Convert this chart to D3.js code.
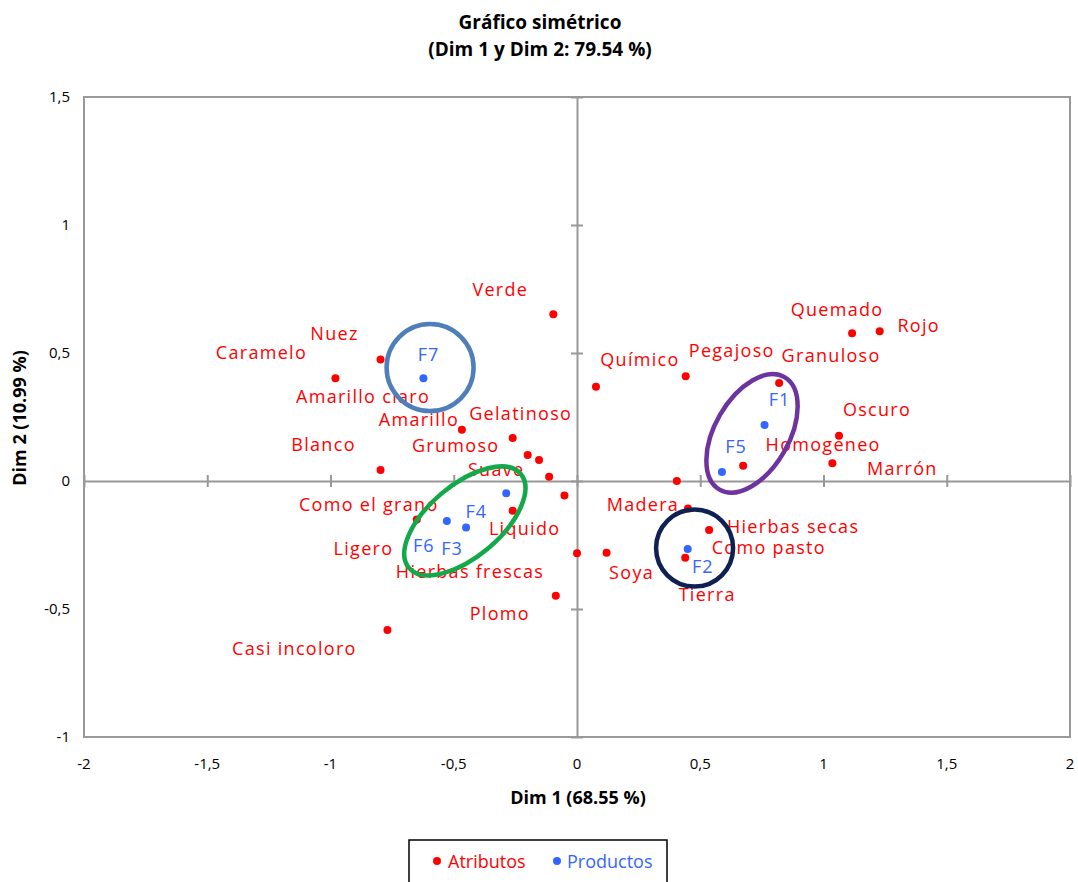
<!doctype html>
<html>
<head>
<meta charset="utf-8">
<style>
  body { margin: 0; background: #fff; }
  text { font-family: "Open Sans", "Noto Sans", sans-serif; }
</style>
<script src="https://d3js.org/d3.v7.min.js"></script>
</head>
<body>
<svg width="1078" height="882" class="svg1"></svg>
<script>
// atributos (Dim 1, Dim 2)
var attrNames = ["Verde", "Nuez", "Caramelo", "Amarillo claro", "Amarillo", "Gelatinoso", "Grumoso",
                 "Blanco", "Suave", "Como el grano", "Ligero", "Hierbas frescas", "Liquido", "Plomo",
                 "Casi incoloro", "Químico", "Pegajoso", "Granuloso", "Quemado", "Rojo", "Oscuro",
                 "Homogeneo", "Marrón", "Como pasto", "Madera", "Hierbas secas", "Soya", "Tierra"];
var attrDim1 = [-0.096, -0.797, -0.980, -0.154, -0.467, -0.200, -0.261,
                -0.797, -0.113, -0.650, -0.051, 0.000, -0.261, -0.086,
                -0.769, 0.077, 0.441, 0.820, 1.116, 1.228, 1.063,
                0.674, 1.036, 0.405, 0.450, 0.536, 0.120, 0.439];
var attrDim2 = [0.651, 0.475, 0.401, 0.082, 0.200, 0.102, 0.168,
                0.043, 0.017, -0.150, -0.057, -0.282, -0.116, -0.448,
                -0.582, 0.368, 0.409, 0.383, 0.577, 0.585, 0.177,
                0.060, 0.069, 0.000, -0.107, -0.191, -0.280, -0.300];

// productos
var prodNames = ["F1", "F2", "F3", "F4", "F5", "F6", "F7"];
var prodDim1 = [0.761, 0.449, -0.450, -0.287, 0.588, -0.528, -0.623];
var prodDim2 = [0.219, -0.266, -0.182, -0.048, 0.035, -0.156, 0.401];

var xTicks = [-2, -1.5, -1, -0.5, 0, 0.5, 1, 1.5, 2];
var yTicks = [-1, -0.5, 0, 0.5, 1, 1.5];

// label offsets in px (layout only)
var attrLabelOff = [[-53,-25],[-46,-26],[-74,-26],[-176,-63],[-43,-10],[-7,-41],[-57,8],
                    [-57,-25],[-53,-7],[-48,-15],[-201,53],[-107,19],[12,18],[-56,18],
                    [-93,19],[44,-27],[46,-26],[52,-27],[-15,-24],[39,-6],[38,-26],
                    [80,-21],[70,5],[92,67],[-45,-4],[84,-3],[25,20],[22,37]];
var prodLabelOff = [[15,-25],[15,18],[-14,21],[-30,18],[14,-25],[-23,25],[5,-24]];

// group ellipses: centre in data units, radii px, rotation deg
var groups = [
  {cx: -0.596, cy: 0.443, rx: 43.5, ry: 43.5, rot: 0, color: "#4f7fba"},
  {cx: -0.455, cy: -0.156, rx: 73, ry: 36, rot: -40, color: "#13a84a"},
  {cx: 0.710, cy: 0.186, rx: 65, ry: 37, rot: -60, color: "#6d34a0"},
  {cx: 0.477, cy: -0.262, rx: 38.5, ry: 38.5, rot: 0, color: "#0f2150"}
];

var svg = d3.select(".svg1");
var pl = 84, pr = 1070, pt = 97, pb = 737;

var x = d3.scaleLinear().domain([-2, 2]).range([pl, pr]);
var y = d3.scaleLinear().domain([-1, 1.5]).range([pb, pt]);
var fmt = function(d) { return String(d).replace(".", ","); };

var gray = "#999";

// title
svg.append("text").attr("x", 540).attr("y", 29).attr("text-anchor", "middle")
   .attr("font-size", "19px").attr("font-weight", "bold").text("Gráfico simétrico");
svg.append("text").attr("x", 540).attr("y", 56).attr("text-anchor", "middle")
   .attr("font-size", "19px").attr("font-weight", "bold").text("(Dim 1 y Dim 2: 79.54 %)");

// frame
svg.append("rect").attr("x", pl).attr("y", pt).attr("width", pr - pl).attr("height", pb - pt)
   .attr("fill", "none").attr("stroke", gray).attr("stroke-width", 2);

// zero axes with crossing ticks
var xAxis = svg.append("g").attr("transform", "translate(0," + y(0) + ")")
   .call(d3.axisBottom(x).tickValues(xTicks).tickFormat("").tickSizeInner(6).tickSizeOuter(0));
xAxis.selectAll(".tick line").attr("y1", -6);
var yAxis = svg.append("g").attr("transform", "translate(" + x(0) + ",0)")
   .call(d3.axisLeft(y).tickValues(yTicks).tickFormat("").tickSizeInner(6).tickSizeOuter(0));
yAxis.selectAll(".tick line").attr("x1", 6);
svg.selectAll(".domain, .tick line").attr("stroke", gray).attr("stroke-width", 2);

// tick labels around frame
svg.append("g").selectAll("text").data(xTicks).enter().append("text")
   .attr("x", function(d) { return x(d); }).attr("y", 769)
   .attr("text-anchor", "middle").attr("font-size", "15px").attr("fill", "#000").text(fmt);
svg.append("g").selectAll("text").data(yTicks).enter().append("text")
   .attr("x", 70).attr("y", function(d) { return y(d) + 5; })
   .attr("text-anchor", "end").attr("font-size", "15px").attr("fill", "#000").text(fmt);

// axis titles
svg.append("text").attr("x", 578).attr("y", 804).attr("text-anchor", "middle")
   .attr("font-size", "18px").attr("font-weight", "bold").text("Dim 1 (68.55 %)");
svg.append("text").attr("transform", "translate(26,418) rotate(-90)").attr("text-anchor", "middle")
   .attr("font-size", "18px").attr("font-weight", "bold").text("Dim 2 (10.99 %)");

// points
var attrs = attrNames.map(function(n, i) { return {name: n, d1: attrDim1[i], d2: attrDim2[i], off: attrLabelOff[i]}; });
var prods = prodNames.map(function(n, i) { return {name: n, d1: prodDim1[i], d2: prodDim2[i], off: prodLabelOff[i]}; });

svg.append("g").selectAll("circle").data(attrs).enter().append("circle")
   .attr("cx", function(d) { return x(d.d1); }).attr("cy", function(d) { return y(d.d2); })
   .attr("r", 4).attr("fill", "#ff0000");
svg.append("g").selectAll("circle").data(prods).enter().append("circle")
   .attr("cx", function(d) { return x(d.d1); }).attr("cy", function(d) { return y(d.d2); })
   .attr("r", 4).attr("fill", "#3366ff");

svg.append("g").selectAll("text").data(attrs).enter().append("text")
   .attr("x", function(d) { return x(d.d1) + d.off[0]; })
   .attr("y", function(d) { return y(d.d2) + d.off[1]; })
   .attr("dy", "0.35em").attr("text-anchor", "middle").attr("letter-spacing", "1.3px")
   .attr("font-size", "18px").attr("fill", "#ff0000").text(function(d) { return d.name; });
svg.append("g").selectAll("text").data(prods).enter().append("text")
   .attr("x", function(d) { return x(d.d1) + d.off[0]; })
   .attr("y", function(d) { return y(d.d2) + d.off[1]; })
   .attr("dy", "0.35em").attr("text-anchor", "middle").attr("letter-spacing", "1px")
   .attr("font-size", "18px").attr("fill", "#3366ff").text(function(d) { return d.name; });

// group ellipses
svg.append("g").selectAll("ellipse").data(groups).enter().append("ellipse")
   .attr("transform", function(d) { return "translate(" + x(d.cx) + "," + y(d.cy) + ") rotate(" + d.rot + ")"; })
   .attr("rx", function(d) { return d.rx; }).attr("ry", function(d) { return d.ry; })
   .attr("fill", "none").attr("stroke", function(d) { return d.color; }).attr("stroke-width", 4.5);

// legend
var lg = svg.append("g");
lg.append("rect").attr("x", 409).attr("y", 840).attr("width", 258).attr("height", 50)
  .attr("fill", "#fff").attr("stroke", "#000").attr("stroke-width", 1.5);
lg.append("circle").attr("cx", 437).attr("cy", 861).attr("r", 4).attr("fill", "#ff0000");
lg.append("text").attr("x", 448).attr("y", 868).attr("font-size", "18px").attr("fill", "#ff0000").text("Atributos");
lg.append("circle").attr("cx", 557).attr("cy", 861).attr("r", 4).attr("fill", "#3366ff");
lg.append("text").attr("x", 567).attr("y", 868).attr("font-size", "18px").attr("fill", "#3366ff").text("Productos");
</script>
</body>
</html>
